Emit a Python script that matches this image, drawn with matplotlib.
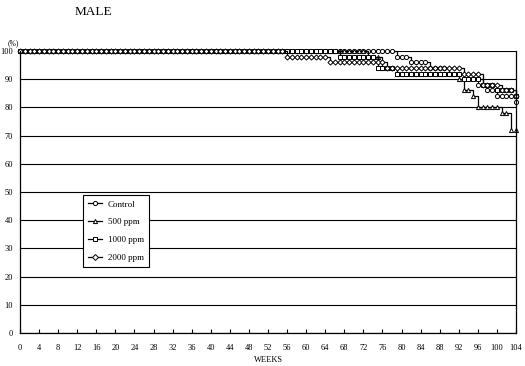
import numpy as np
import matplotlib
matplotlib.use("Agg")
import matplotlib.pyplot as plt

# survival (%) step data: week where the value changes -> value from that week on
control_weeks = [0, 79, 82, 86, 90, 93, 96, 98, 100, 104]
control_pct = [100, 98, 96, 94, 92, 90, 88, 86, 84, 82]

ppm500_weeks = [0, 73, 76, 79, 92, 93, 95, 96, 101, 103]
ppm500_pct = [100, 98, 94, 92, 90, 86, 84, 80, 78, 72]

ppm1000_weeks = [0, 67, 75, 79, 93, 97, 100, 104]
ppm1000_pct = [100, 98, 94, 92, 90, 88, 86, 84]

ppm2000_weeks = [0, 56, 65, 77, 93, 97, 101, 104]
ppm2000_pct = [100, 98, 96, 94, 92, 88, 86, 84]

obs_weeks = list(range(0, 105))
x_ticks = list(range(0, 105, 4))
y_ticks = list(range(0, 101, 10))

groups = [
    ("Control", control_weeks, control_pct, "o"),
    ("500 ppm", ppm500_weeks, ppm500_pct, "^"),
    ("1000 ppm", ppm1000_weeks, ppm1000_pct, "s"),
    ("2000 ppm", ppm2000_weeks, ppm2000_pct, "D"),
]

plt.rcParams["font.family"] = ["Liberation Serif", "DejaVu Serif"]

fig = plt.figure(figsize=(5.25, 3.66), dpi=100)
ax = fig.add_axes([20 / 525, 1 - 333 / 366, 496 / 525, 282 / 366])

for label, weeks, pct, mk in groups:
    weeks = np.array(weeks)
    pct = np.array(pct)
    obs = np.array(obs_weeks)
    vals = pct[np.searchsorted(weeks, obs, side="right") - 1]
    ax.step(weeks, pct, where="post", color="black", lw=0.9, clip_on=False)
    ax.plot(obs, vals, ls="none", marker=mk, ms=3.0 if mk != "D" else 2.6,
            mfc="white", mec="black", mew=0.7, clip_on=False)
    ax.plot([], [], color="black", lw=0.9, marker=mk, ms=3.0,
            mfc="white", mec="black", mew=0.7, label=label)

ax.set_xlim(0, 104)
ax.set_ylim(0, 100)
ax.set_xticks(x_ticks)
ax.set_yticks(y_ticks)
ax.tick_params(axis="x", direction="in", length=3, width=0.8, labelsize=6, pad=8)
ax.tick_params(axis="y", length=0, labelsize=6, pad=5)
ax.grid(axis="y", color="black", lw=0.8)
for s in ax.spines.values():
    s.set_linewidth(0.9)
ax.spines["top"].set_visible(False)

ax.set_xlabel("WEEKS", fontsize=6, labelpad=3)
fig.text(93 / 525, 1 - 12 / 366, "MALE", fontsize=9.5, ha="center", va="center")
fig.text(8 / 525, 1 - 43 / 366, "(%)", fontsize=5.5, ha="left", va="center")

leg = ax.legend(loc="lower left", bbox_to_anchor=(0.127, 0.234), fontsize=6.5,
                frameon=True, fancybox=False, edgecolor="black", framealpha=1,
                handlelength=1.6, handletextpad=0.6, borderpad=0.55,
                labelspacing=1.05, borderaxespad=0)
leg.get_frame().set_linewidth(0.8)

fig.savefig("out.png", dpi=100)
